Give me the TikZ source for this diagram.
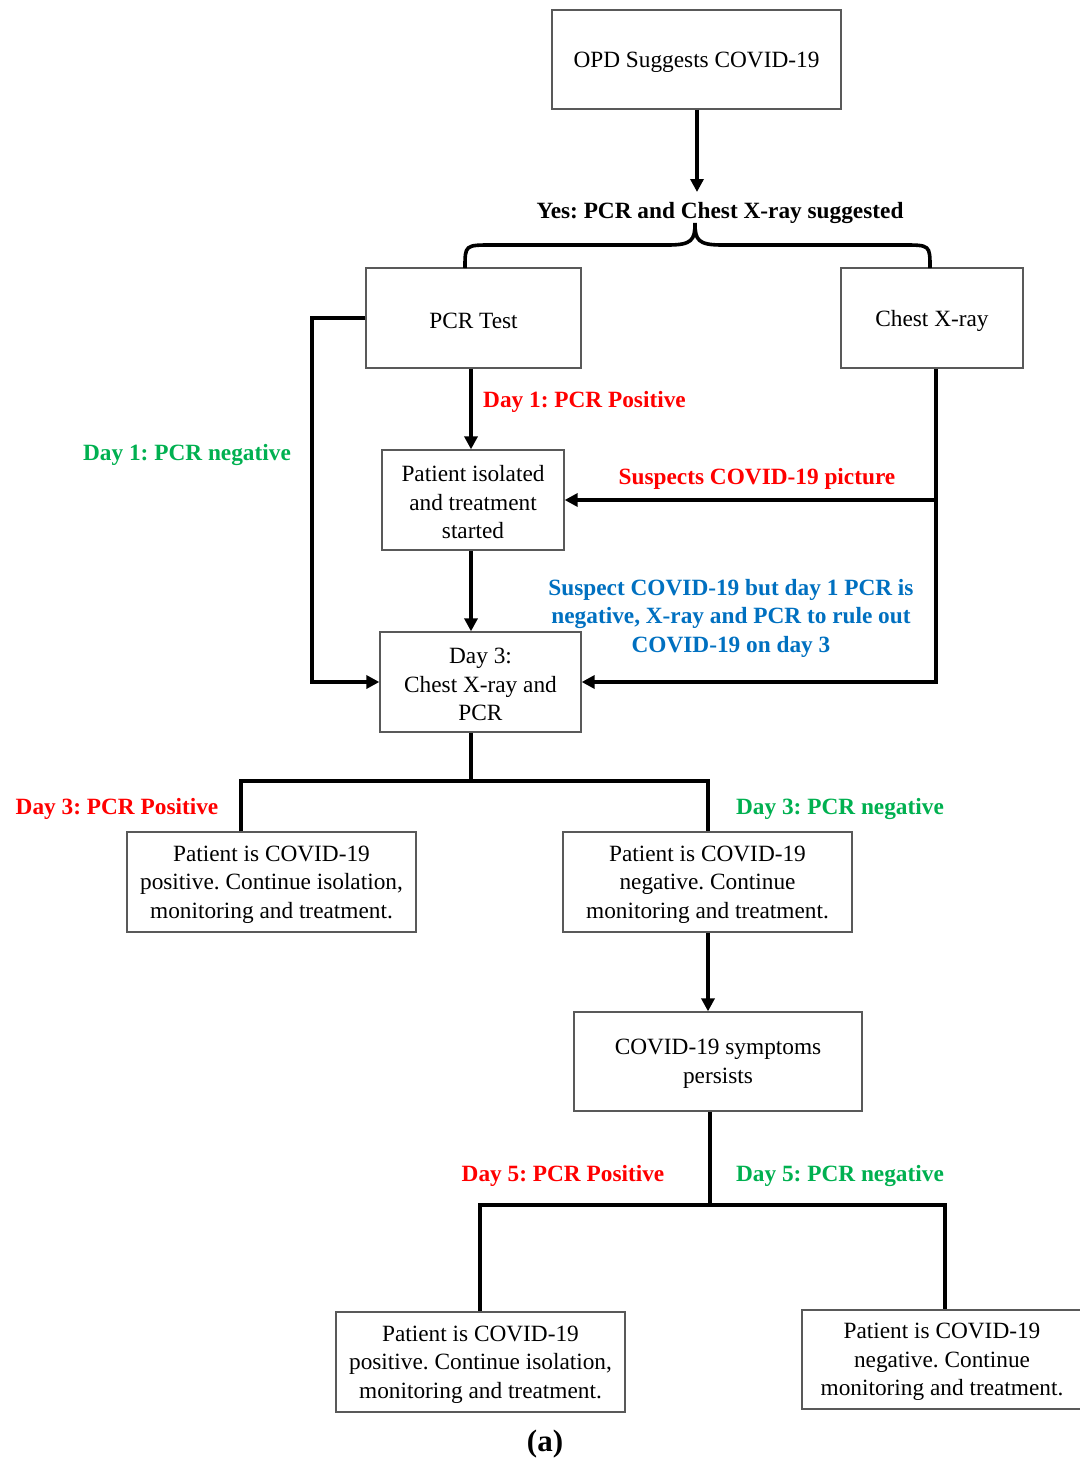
\documentclass[tikz,border=0pt]{standalone}
\usepackage{fontspec}
\setmainfont{Liberation Serif}
\frenchspacing
\usetikzlibrary{arrows.meta}
\definecolor{cred}{HTML}{FF0000}
\definecolor{cgreen}{HTML}{00B050}
\definecolor{cblue}{HTML}{0070C0}
\tikzset{
  box/.style={draw=black!65, line width=1.3pt, inner sep=0pt},
  txt/.style={inner sep=0pt, align=center, yshift=-2.5pt,
    font=\fontsize{23.3}{28.5}\selectfont},
  lbl/.style={inner sep=0pt, align=center, font=\fontsize{23.3}{28.5}\selectfont\bfseries},
  conn/.style={line width=3.6pt, -{Triangle[length=13pt,width=13pt]}},
  wire/.style={line width=3.6pt},
}
\begin{document}
\begin{tikzpicture}[x=1pt,y=-1pt]
\useasboundingbox (0,0) rectangle (1079,1461);
% boxes
\node[box, minimum width=289pt, minimum height=99pt, label={[txt]center:OPD Suggests COVID-19}] (opd) at (696.5,59.5) {};
\node[box, minimum width=215pt, minimum height=100pt, label={[txt]center:PCR Test}] (pcr) at (473.5,318) {};
\node[box, minimum width=182pt, minimum height=100pt, label={[txt]center:Chest X-ray}] (xray) at (932,318) {};
\node[box, minimum width=182pt, minimum height=100pt, label={[txt]center:{Patient isolated\\and treatment\\started}}] (iso) at (473,500) {};
\node[box, minimum width=201pt, minimum height=100pt, label={[txt]center:{Day 3:\\Chest X-ray and\\PCR}}] (day3) at (480.5,682) {};
\node[box, minimum width=289pt, minimum height=100pt, label={[txt]center:{Patient is COVID-19\\positive. Continue isolation,\\monitoring and treatment.}}] (d3pos) at (271.5,882) {};
\node[box, minimum width=289pt, minimum height=100pt, label={[txt]center:{Patient is COVID-19\\negative. Continue\\monitoring and treatment.}}] (d3neg) at (707.5,882) {};
\node[box, minimum width=288pt, minimum height=99pt, label={[txt]center:{COVID-19 symptoms\\persists}}] (sym) at (718,1061.5) {};
\node[box, minimum width=289pt, minimum height=100pt, label={[txt]center:{Patient is COVID-19\\positive. Continue isolation,\\monitoring and treatment.}}] (d5pos) at (480.5,1362) {};
\node[box, minimum width=280pt, minimum height=99pt, label={[txt]center:{Patient is COVID-19\\negative. Continue\\monitoring and treatment.}}] (d5neg) at (942,1359.5) {};
% labels
\node[lbl] (yes) at (720,213) {Yes: PCR and Chest X-ray suggested};
\node[lbl, text=cred, anchor=west] (l1pos) at (483,402) {Day 1: PCR Positive};
\node[lbl, text=cgreen] (l1neg) at (187,455) {Day 1: PCR negative};
\node[lbl, text=cred] (lsus) at (757,479) {Suspects COVID-19 picture};
\node[lbl, text=cblue] (lblue) at (731,618) {Suspect COVID-19 but day 1 PCR is\\negative, X-ray and PCR to rule out\\COVID-19 on day 3};
\node[lbl, text=cred] (l3pos) at (117,809) {Day 3: PCR Positive};
\node[lbl, text=cgreen] (l3neg) at (840,809) {Day 3: PCR negative};
\node[lbl, text=cred] (l5pos) at (563,1176) {Day 5: PCR Positive};
\node[lbl, text=cgreen] (l5neg) at (840,1176) {Day 5: PCR negative};
\node[inner sep=0pt, font=\fontsize{31}{34}\selectfont\bfseries] (cap) at (545,1444) {(a)};
% coordinates
\coordinate (top) at (697,192);
\coordinate (bl) at (465,268);
\coordinate (br) at (930,268);
\coordinate (cusp) at (695,223);
\coordinate (ln) at (312,318);
\coordinate (xr) at (936,500);
\coordinate (b3) at (471,781);
\coordinate (b3l) at (241,781);
\coordinate (b3r) at (708,781);
\coordinate (b5) at (710,1205);
\coordinate (b5l) at (480,1205);
\coordinate (b5r) at (945,1205);
% connectors
\draw[conn] (opd.south -| top) -- (top);
\draw[wire] (bl) .. controls (465,245) .. (492,245) -- (668,245)
   .. controls (692,245) and (695,240) .. (cusp)
   .. controls (695,240) and (698,245) .. (722,245) -- (903,245)
   .. controls (930,245) .. (br);
\draw[conn] (pcr.south -| b3) -- (iso.north -| b3);
\draw[conn] (iso.south -| b3) -- (day3.north -| b3);
\draw[conn] (pcr.west) -- (ln) |- (day3.west);
\draw[conn] (xray.south -| xr) -- (xr) -- (iso.east);
\draw[conn] (xr) |- (day3.east);
\draw[wire] (day3.south -| b3) -- (b3);
\draw[wire] (d3pos.north -| b3l) -- (b3l) -- (b3r) -- (d3neg.north -| b3r);
\draw[conn] (d3neg.south -| b3r) -- (sym.north -| b3r);
\draw[wire] (sym.south -| b5) -- (b5);
\draw[wire] (d5pos.north -| b5l) -- (b5l) -- (b5r) -- (d5neg.north -| b5r);
\end{tikzpicture}
\end{document}
